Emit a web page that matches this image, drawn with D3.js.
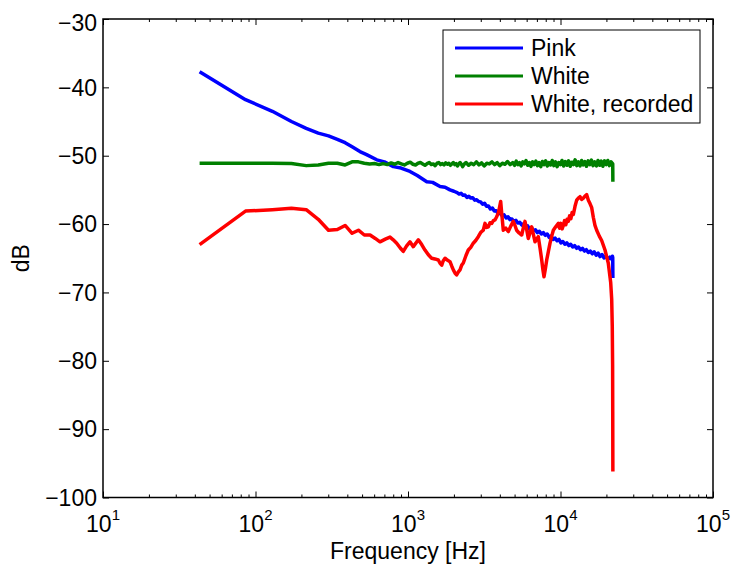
<!DOCTYPE html>
<html><head><meta charset="utf-8">
<script src="https://cdn.jsdelivr.net/npm/d3@7"></script>
<style>body{margin:0;background:#fff} svg{display:block} text{font-family:"Liberation Sans",Arial,sans-serif;fill:#000}</style>
</head><body><svg id="c" width="732" height="564"></svg>
<script>
// ---- data: [frequency Hz, level dB] ----
const pink = [[43,-37.7],[86,-41.8],[129,-43.5],[172,-45.0],[215,-46.0],[258,-46.7],[301,-47.1],[344,-47.6],[387,-48.1],[430,-48.7],[484,-49.4],[531,-49.8],[624,-50.6],[700,-50.9],[802,-51.6],[900,-51.8],[1030,-52.3],[1150,-52.9],[1327,-53.8],[1450,-53.9],[1622,-54.5],[1750,-54.6],[1885,-55.0],[2000,-55.2],
[2100,-55.4],[2163,-55.6],[2228,-55.5],[2295,-55.8],[2364,-55.75],[2435,-56.1],[2508,-55.95],[2583,-56.2],[2660,-56.15],[2740,-56.5],[2822,-56.45],[2907,-56.7],[2994,-56.75],[3084,-57.1],[3177,-56.95],[3272,-57.4],[3370,-57.35],[3471,-57.8],[3575,-57.65],[3683,-58.1],[3793,-58.05],[3907,-58.5],[4024,-58.4],[4145,-58.75],[4269,-58.65],[4397,-59.1],[4529,-58.95],[4665,-59.35],[4805,-59.25],[4949,-59.65],[5098,-59.45],[5251,-59.85],[5408,-59.75],[5571,-60.15],[5738,-59.95],[5910,-60.45],[6087,-60.25],[6270,-60.75],[6458,-60.55],[6652,-60.95],[6851,-60.85],[7057,-61.25],[7269,-61.05],[7487,-61.45],[7711,-61.25],[7943,-61.65],[8181,-61.45],[8426,-61.95],[8679,-61.75],[8940,-62.25],[9208,-62.05],[9484,-62.45],[9769,-62.25],[10062,-62.75],[10364,-62.55],[10675,-62.95],[10995,-62.75],[11325,-63.15],[11664,-62.95],[12014,-63.35],[12375,-63.15],[12746,-63.55],[13128,-63.35],[13522,-63.75],[13928,-63.55],[14346,-63.95],[14776,-63.75],[15219,-64.15],[15676,-63.95],[16146,-64.35],[16631,-64.05],[17130,-64.55],[17644,-64.25],[18173,-64.75],[18718,-64.45],[19280,-64.95],[19858,-64.65],[20454,-65.15],[21067,-64.85],[21600,-65.1],[21900,-64.7],[22007,-64.9],[22050,-67.9]];

const white = [[43,-51.1],[86,-51.1],[129,-51.1],[172,-51.15],[215,-51.45],[258,-51.35],[301,-51.1],[344,-51.1],[387,-51.35],[430,-50.9],[473,-50.9],[517,-51.1],[560,-51.2],[603,-51.15],[646,-51.3],[689,-51.15],[732,-51.3],[775,-51.05],[818,-51.25],[861,-51.0],[904,-51.2],[947,-51.35],[990,-51.1],[1034,-50.95],[1077,-51.25],[1120,-51.35],[1163,-51.1],[1206,-51.0],[1249,-51.2],[1292,-51.4],[1335,-51.15],[1378,-51.0],[1421,-51.3],[1464,-51.2],[1507,-51.45],[1550,-51.1],[1593,-51.0],[1636,-51.3],[1680,-51.15],[1723,-51.35],[1766,-51.05],[1809,-51.25],[1852,-51.1],[1895,-51.4],[1938,-51.2],[1981,-51.0],[2024,-51.3],[2067,-51.15],[2110,-51.5],[2153,-51.2],[2196,-51.0],[2239,-51.25],[2282,-51.6],[2325,-51.3],[2368,-51.1],
[2400,-51.0],[2496,-51.4],[2596,-51.1],[2700,-51.3],[2808,-50.9],[2920,-51.35],[3037,-51.05],[3158,-51.5],[3285,-51.1],[3416,-51.2],[3553,-50.9],[3695,-51.3],[3843,-51.0],[3996,-51.45],[4156,-51.1],[4322,-51.25],[4495,-50.85],[4675,-51.3],[4862,-51.0],
[5000,-51.4],[5125,-50.8],[5253,-51.3],[5384,-51.0],[5519,-51.5],[5657,-50.9],[5798,-51.2],[5943,-50.7],[6092,-51.4],[6244,-51.0],[6400,-51.55],[6560,-50.9],[6724,-51.3],[6892,-50.8],[7065,-51.45],[7241,-51.0],[7422,-51.6],[7608,-50.85],[7798,-51.3],[7993,-50.75],[8193,-51.5],[8398,-51.0],[8608,-51.35],[8823,-50.7],[9044,-51.45],[9270,-50.9],[9502,-51.6],[9739,-51.0],[9983,-51.3],[10232,-50.7],[10488,-51.5],[10750,-50.85],[11019,-51.4],[11295,-50.75],[11577,-51.55],[11867,-50.95],[12163,-51.3],[12467,-50.6],[12779,-51.45],[13099,-50.9],[13426,-51.5],[13762,-50.7],[14106,-51.35],[14459,-50.85],[14820,-51.55],[15191,-50.75],[15570,-51.3],[15960,-50.65],[16359,-51.45],[16768,-50.9],[17187,-51.5],[17617,-50.7],[18057,-51.4],[18508,-50.8],[18971,-51.55],[19445,-50.75],[19932,-51.3],[20430,-50.7],[20941,-51.45],[21464,-50.9],[22007,-51.2],[22050,-53.8]];

const recorded = [[43,-63.0],[86,-58.1],[129,-57.9],[172,-57.7],[215,-57.9],[258,-59.3],[301,-60.9],[344,-60.8],[387,-60.2],[430,-61.35],[473,-60.9],[517,-61.6],[564,-61.6],[610,-62.1],[655,-62.6],[710,-62.2],[762,-61.9],[800,-62.3],[843,-62.8],[890,-63.5],[931,-64.0],[980,-63.2],[1030,-62.6],[1083,-63.3],[1169,-62.3],[1230,-63.0],[1292,-63.8],[1360,-64.5],[1429,-65.0],[1500,-65.1],[1580,-65.25],[1620,-65.7],[1664,-66.0],[1700,-65.4],[1749,-65.0],[1820,-65.3],[1885,-65.5],[1940,-66.2],[1983,-66.7],[2040,-67.2],[2084,-67.45],[2140,-67.0],[2193,-66.7],[2250,-66.0],[2305,-65.7],[2400,-64.6],[2485,-63.8],[2580,-63.4],[2679,-62.8],[2780,-62.4],[2890,-61.85],[3000,-61.2],[3116,-60.9],[3198,-59.9],[3280,-60.5],[3363,-60.4],[3450,-59.8],[3541,-59.9],[3630,-59.5],[3719,-59.4],[3800,-59.0],[3909,-58.4],[3980,-57.6],[4053,-56.7],[4100,-58.0],[4216,-60.9],[4380,-60.6],[4547,-61.1],[4720,-60.3],[4901,-59.6],[5030,-60.2],[5155,-60.9],[5350,-61.3],[5566,-61.6],[5700,-60.6],[5848,-59.6],[6000,-60.8],[6150,-62.1],[6300,-61.3],[6475,-60.4],[6640,-61.5],[6808,-62.6],[6980,-62.2],[7151,-61.85],[7340,-63.5],[7530,-65.25],[7660,-66.6],[7794,-67.7],[7950,-66.6],[8121,-65.25],[8330,-64.0],[8536,-62.8],[8750,-61.8],[8974,-60.9],[9300,-60.4],[9684,-59.9],[9850,-60.6],[10050,-59.9],[10250,-60.7],[10430,-60.2],[10630,-59.5],[10830,-60.1],[11050,-59.3],[11250,-59.6],[11470,-58.8],[11700,-59.2],[11920,-58.3],[12140,-58.6],[12450,-57.4],[12770,-56.5],[13100,-56.2],[13420,-56.0],[13760,-56.4],[14120,-56.2],[14480,-55.9],[14850,-55.7],[15230,-56.5],[15610,-57.0],[16020,-57.6],[16410,-59.0],[16830,-60.2],[17270,-60.9],[18000,-61.8],[18620,-62.4],[19580,-63.8],[20570,-65.7],[21330,-68.5],[21660,-71],[21850,-75],[21963,-80.5],[22007,-87.5],[22050,-96.2]];

const seriesNames = ["Pink", "White", "White, recorded"];
const seriesColors = ["#0000ff", "#008000", "#ff0000"];
const xTickExponents = [1, 2, 3, 4, 5];
const yTickValues = [-100, -90, -80, -70, -60, -50, -40, -30];
const xTitle = "Frequency [Hz]";
const yTitle = "dB";

// ---- layout ----
const L = 103, R = 713, T = 19, B = 497.5;
const FS = 23;
const svg = d3.select("#c");
const x = d3.scaleLog().domain([10, 1e5]).range([L, R]);
const y = d3.scaleLinear().domain([-100, -30]).range([B, T]);

const majorX = xTickExponents.map(e => Math.pow(10, e));
const minorX = [];
xTickExponents.slice(0, -1).forEach(e => { for (let j = 2; j <= 9; j++) minorX.push(j * Math.pow(10, e)); });

function axisCall(gen, vals, size) {
  return g => g.call(gen.tickValues(vals).tickSize(size).tickFormat(() => ""))
    .call(g => g.select(".domain").remove())
    .call(g => g.selectAll("line").attr("stroke", "#000").attr("stroke-width", 1));
}
svg.append("g").attr("transform", `translate(0,${B})`).call(axisCall(d3.axisBottom(x), majorX, -6));
svg.append("g").attr("transform", `translate(0,${B})`).call(axisCall(d3.axisBottom(x), minorX, -3));
svg.append("g").attr("transform", `translate(0,${T})`).call(axisCall(d3.axisTop(x), majorX, -6));
svg.append("g").attr("transform", `translate(0,${T})`).call(axisCall(d3.axisTop(x), minorX, -3));
svg.append("g").attr("transform", `translate(${L},0)`).call(axisCall(d3.axisLeft(y), yTickValues, -6));
svg.append("g").attr("transform", `translate(${R},0)`).call(axisCall(d3.axisRight(y), yTickValues, -6));

// series lines
const line = d3.line().x(d => x(d[0])).y(d => y(d[1]));
[pink, white, recorded].forEach((data, i) => {
  svg.append("path").datum(data).attr("d", line)
    .attr("fill", "none").attr("stroke", seriesColors[i])
    .attr("stroke-width", 3.5).attr("stroke-linejoin", "round").attr("stroke-linecap", "butt");
});

// frame
svg.append("rect").attr("x", L).attr("y", T).attr("width", R - L).attr("height", B - T)
  .attr("fill", "none").attr("stroke", "#000").attr("stroke-width", 1.5);

// y tick labels
svg.append("g").selectAll("text").data(yTickValues).join("text")
  .attr("x", L - 6).attr("y", d => Math.max(y(d), 22.5) + 8.2)
  .attr("text-anchor", "end").attr("font-size", FS)
  .text(d => d < 0 ? "\u2212" + Math.abs(d) : String(d));

// x tick labels with superscript
const xl = svg.append("g").selectAll("text").data(xTickExponents).join("text")
  .attr("x", d => x(Math.pow(10, d))).attr("y", 532)
  .attr("text-anchor", "middle").attr("font-size", FS);
xl.append("tspan").text("10");
xl.append("tspan").attr("dy", -12).attr("font-size", 15).text(d => d);

// axis titles
svg.append("text").attr("x", (L + R) / 2).attr("y", 559).attr("text-anchor", "middle")
  .attr("font-size", FS).text(xTitle);
svg.append("text").attr("transform", `translate(29,${(T + B) / 2}) rotate(-90)`)
  .attr("text-anchor", "middle").attr("font-size", FS).text(yTitle);

// legend
const lg = svg.append("g");
lg.append("rect").attr("x", 443).attr("y", 30).attr("width", 257).attr("height", 93)
  .attr("fill", "#fff").attr("stroke", "#000").attr("stroke-width", 1);
seriesNames.forEach((name, i) => {
  const ly = 48 + i * 28;
  lg.append("line").attr("x1", 455).attr("x2", 523).attr("y1", ly).attr("y2", ly)
    .attr("stroke", seriesColors[i]).attr("stroke-width", 3);
  lg.append("text").attr("x", 531).attr("y", ly + 8).attr("font-size", FS).text(name);
});
</script></body></html>
